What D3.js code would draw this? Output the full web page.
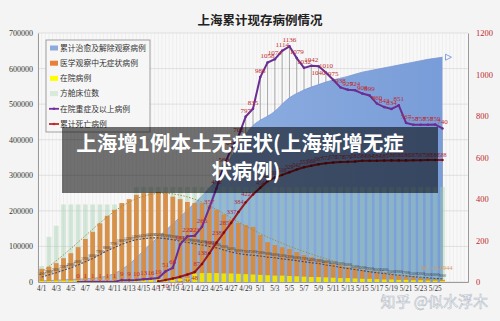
<!DOCTYPE html>
<html>
<head>
<meta charset="utf-8">
<script src="https://cdn.jsdelivr.net/npm/d3@7"></script>
<style>
  html, body { margin: 0; padding: 0; background: #f4f4f4; }
  svg { display: block; }
</style>
</head>
<body>
<div id="chart"></div>
<script>
// categories (4/1 .. 5/29, data runs to 5/26)
var dates = ["4/1","4/2","4/3","4/4","4/5","4/6","4/7","4/8","4/9","4/10","4/11","4/12","4/13","4/14","4/15",
  "4/16","4/17","4/18","4/19","4/20","4/21","4/22","4/23","4/24","4/25","4/26","4/27","4/28","4/29","4/30",
  "5/1","5/2","5/3","5/4","5/5","5/6","5/7","5/8","5/9","5/10","5/11","5/12","5/13","5/14","5/15","5/16",
  "5/17","5/18","5/19","5/20","5/21","5/22","5/23","5/24","5/25","5/26","5/27","5/28","5/29"];

var tickDates = ["4/1","4/3","4/5","4/7","4/9","4/11","4/13","4/15","4/17","4/19","4/21","4/23","4/25","4/27","4/29",
  "5/1","5/3","5/5","5/7","5/9","5/11","5/13","5/15","5/17","5/19","5/21","5/23","5/25"];
var leftTicks = [0, 100000, 200000, 300000, 400000, 500000, 600000, 700000];
var rightTicks = [0, 200, 400, 600, 800, 1000, 1200];

// 累计治愈及解除观察病例 (4/1..5/26)
var cured = [3000,4000,5000,6000,7000,8000,9000,10000,13000,17000,24000,35000,50000,68000,88000,
  108000,126000,145000,163000,183000,202000,222000,242000,264000,287000,320000,350000,385000,415000,440000,
  455000,466000,480000,500000,518000,530000,540000,548000,555000,562000,568000,573000,578000,584000,590000,
  594000,598000,602000,606000,610000,614000,618000,622000,626000,629000,632000];

// 医学观察中无症状病例
var asym = [37000,43000,53000,67000,81000,98000,121000,141000,165000,186000,203000,222000,233000,245000,250000,
  251000,253000,250000,240000,233000,225000,222000,222000,216000,203000,190000,176000,166000,160000,155000,
  132000,112000,104000,98000,93000,84000,76000,70000,65000,59000,53000,48000,42000,39000,34000,
  31000,28000,24000,21000,18000,15000,13000,11000,9000,7000,6000];

// 在院病例
var inHosp = [3000,3000,4000,4000,4000,5000,5000,5000,5000,6000,6000,6000,7000,7000,7000,
  8000,8000,8000,9000,9000,10000,24000,25000,25000,25000,24000,24000,23000,22000,21000,
  20000,19000,18000,18000,17000,16000,15000,14000,14000,13000,12000,11000,11000,10000,9000,
  9000,8000,7000,7000,6000,6000,5000,5000,4000,4000,3000];

// 方舱床位数
var beds = [45000,127000,158000,218000,218000,218000,218000,218000,218000,218000,218000,218000,218000,267000,267000,
  267000,267000,267000,267000,267000,267000,267000,267000,267000,267000,267000,267000,267000,267000,267000,
  267000,267000,267000,267000,267000,267000,267000,267000,267000,267000,267000,267000,267000,267000,267000,
  267000,267000,267000,267000,267000,267000,267000,267000,267000,267000,267000];

// 在院重症及以上病例 (right axis)
var severe = [null,null,null,null,null,0,1,1,1,1,1,9,9,10,13,
  16,19,51,68,181,220,223,266,357,452,560,640,702,797,835,
  988,1058,1074,1114,1136,1079,1032,1042,1040,1010,975,938,927,924,908,
  899,860,843,834,851,767,758,758,758,759,740];

// 累计死亡病例 (right axis)
var deaths = [null,null,null,null,null,null,null,null,null,null,null,null,null,null,null,
  null,3,10,17,25,36,48,87,138,190,238,285,337,384,422,
  454,486,503,516,529,542,553,560,567,572,576,578,579,581,584,
  584,584,585,586,586,586,587,587,588,588,588];

// dark dotted series
var darkLine = [14000,20000,26000,33000,40000,48000,57000,66000,77000,88000,97000,106000,113000,119000,122000,
  124000,124000,122000,119000,115000,111000,108000,104000,100000,96000,90000,84000,80000,77000,75000,
  73000,70000,68000,65000,63000,60000,57000,54000,52000,48000,45000,41000,38000,35000,32000,
  29000,26000,24000,21000,19000,17000,15000,13000,12000,10000,9000];

// trend line on 无症状 bars
var trendDates = ["4/1","4/4","4/7","4/10","4/13","4/16","4/19","4/22","4/25","4/28","5/1","5/4","5/7","5/10","5/13","5/16","5/19","5/22","5/26"];
var trendVals = [28000,75000,130000,185000,228000,250000,250000,235000,205000,168000,135000,108000,85000,65000,48000,34000,23000,14000,6000];

var W = 500, H = 321;
var pL = 38, pR = 468, pT = 33, pB = 282;
var serif = "'Liberation Serif', 'DejaVu Serif', serif";
var cjk = "'Noto Sans CJK SC', sans-serif";

var svg = d3.select("#chart").append("svg")
    .attr("width", W)
    .attr("height", H);

svg.append("rect").attr("width", W).attr("height", H).attr("fill", "#f4f4f4");

var defs = svg.append("defs");
var grad = defs.append("linearGradient").attr("id", "blueGrad")
    .attr("gradientUnits", "userSpaceOnUse")
    .attr("x1", pL).attr("x2", 450).attr("y1", 0).attr("y2", 0);
grad.append("stop").attr("offset", "0").attr("stop-color", "#c4d5f0");
grad.append("stop").attr("offset", "0.4").attr("stop-color", "#8fafe1");
grad.append("stop").attr("offset", "1").attr("stop-color", "#789cd8");

var x = d3.scaleBand().domain(dates).range([pL, pR]).padding(0);
var step = x.step();
function cx(d) { return x(d) + step / 2; }

var yL = d3.scaleLinear().domain([0, 700000]).range([pB, pT]);
var yR = d3.scaleLinear().domain([0, 1200]).range([pB, pT]);

var days = dates.slice(0, cured.length);

// plot background + grid
svg.append("rect").attr("x", pL).attr("y", pT).attr("width", pR - pL).attr("height", pB - pT)
    .attr("fill", "#f8f8f8");

var grid = svg.append("g");
d3.range(pL, pR, step / 2).forEach(function(gx) {
    grid.append("line").attr("x1", gx).attr("x2", gx).attr("y1", pT).attr("y2", pB)
        .attr("stroke", "#e4e4e4").attr("stroke-width", 0.5);
});
leftTicks.forEach(function(t) {
    grid.append("line").attr("x1", pL).attr("x2", pR).attr("y1", yL(t)).attr("y2", yL(t))
        .attr("stroke", "#d6d6d6").attr("stroke-width", 0.7);
});

// drop lines from purple points
svg.append("g").selectAll("line")
    .data(days.filter(function(d, i) { return severe[i] != null; }))
    .enter().append("line")
    .attr("x1", cx).attr("x2", cx)
    .attr("y1", function(d) { return yR(severe[dates.indexOf(d)]); })
    .attr("y2", pB)
    .attr("stroke", "#8a8a8a").attr("stroke-width", 0.7);

// blue area
var area = d3.area()
    .x(function(d) { return cx(d); })
    .y0(pB)
    .y1(function(d, i) { return yL(cured[i]); })
    .curve(d3.curveMonotoneX);
svg.append("path").datum(days).attr("d", area).attr("fill", "url(#blueGrad)");
svg.append("path").datum(days)
    .attr("d", d3.line().x(function(d) { return cx(d); }).y(function(d, i) { return yL(cured[i]); }).curve(d3.curveMonotoneX))
    .attr("fill", "none").attr("stroke", "#7896d2").attr("stroke-width", 0.8);
var endX = cx("5/26") + 3, endY = yL(cured[cured.length - 1]);
svg.append("path")
    .attr("d", "M" + endX + "," + (endY - 3) + "L" + (endX + 6) + "," + endY + "L" + endX + "," + (endY + 3) + "Z")
    .attr("fill", "none").attr("stroke", "#6f8fce").attr("stroke-width", 0.8);

// 方舱床位数 bars
var bw = step * 0.66;
svg.append("g").selectAll("rect").data(days).enter().append("rect")
    .attr("x", function(d) { return cx(d) - bw / 2; })
    .attr("width", bw)
    .attr("y", function(d, i) { return yL(beds[i]); })
    .attr("height", function(d, i) { return pB - yL(beds[i]); })
    .attr("fill", "#9fcfae").attr("opacity", 0.42);

// 医学观察中无症状病例 bars
svg.append("g").selectAll("rect").data(days).enter().append("rect")
    .attr("x", function(d) { return cx(d) - bw / 2; })
    .attr("width", bw)
    .attr("y", function(d, i) { return yL(asym[i]); })
    .attr("height", function(d, i) { return pB - yL(asym[i]); })
    .attr("fill", "#d8873a").attr("opacity", 0.9);

// 在院病例 bars
svg.append("g").selectAll("rect").data(days).enter().append("rect")
    .attr("x", function(d) { return cx(d) - bw / 2; })
    .attr("width", bw)
    .attr("y", function(d, i) { return yL(inHosp[i]); })
    .attr("height", function(d, i) { return pB - yL(inHosp[i]); })
    .attr("fill", "#f2f000").attr("opacity", 0.85);

// dark dotted line + tiny labels
var darkG = svg.append("g");
darkG.append("path").datum(days)
    .attr("d", d3.line().x(function(d) { return cx(d); }).y(function(d, i) { return yL(darkLine[i]); }))
    .attr("fill", "none").attr("stroke", "#414c6a").attr("stroke-width", 1.1).attr("stroke-dasharray", "2,1.5");
darkG.selectAll("text").data(days).enter().append("text")
    .attr("x", cx)
    .attr("y", function(d, i) { return yL(darkLine[i]) - 2; })
    .attr("text-anchor", "middle")
    .style("font-family", serif).style("font-size", "3.4px").attr("fill", "#333")
    .text(function(d, i) { return darkLine[i]; });

// trend line on 无症状
svg.append("path").datum(trendDates)
    .attr("d", d3.line().x(function(d) { return cx(d); }).y(function(d, i) { return yL(trendVals[i]); }).curve(d3.curveBasis))
    .attr("fill", "none").attr("stroke", "#a08a3a").attr("stroke-width", 0.9).attr("stroke-dasharray", "1.5,1.5");
svg.append("text").attr("x", 437).attr("y", 270).attr("text-anchor", "middle")
    .style("font-family", serif).style("font-size", "6.5px").attr("fill", "#d49a60")
    .text("R² = 0.9944");

// 在院重症及以上病例 line
var sevDays = days.filter(function(d, i) { return severe[i] != null; });
function sev(d) { return severe[dates.indexOf(d)]; }
svg.append("path").datum(sevDays)
    .attr("d", d3.line().x(cx).y(function(d) { return yR(sev(d)); }))
    .attr("fill", "none").attr("stroke", "#6b2d93").attr("stroke-width", 2);
svg.append("g").selectAll("circle").data(sevDays).enter().append("circle")
    .attr("cx", cx).attr("cy", function(d) { return yR(sev(d)); }).attr("r", 1.3).attr("fill", "#6b2d93");
svg.append("g").selectAll("text").data(sevDays).enter().append("text")
    .attr("x", cx)
    .attr("y", function(d) { return d === "5/9" ? yR(sev(d)) + 9 : yR(sev(d)) - 4; })
    .attr("text-anchor", "middle")
    .style("font-family", serif).style("font-size", "7px").attr("fill", "#c0282d")
    .text(function(d) { return sev(d); });

// 累计死亡病例 line
var deadDays = days.filter(function(d, i) { return deaths[i] != null; });
function dead(d) { return deaths[dates.indexOf(d)]; }
svg.append("path").datum(deadDays)
    .attr("d", d3.line().x(cx).y(function(d) { return yR(dead(d)); }))
    .attr("fill", "none").attr("stroke", "#9a1b22").attr("stroke-width", 2);
svg.append("g").selectAll("circle").data(deadDays).enter().append("circle")
    .attr("cx", cx).attr("cy", function(d) { return yR(dead(d)); }).attr("r", 1.3).attr("fill", "#7d1015");
svg.append("g").selectAll("text").data(deadDays).enter().append("text")
    .attr("x", function(d, i) { return i >= 6 && i < 14 ? cx(d) - 2 : cx(d); })
    .attr("y", function(d, i) {
        if (i < 6) return yR(dead(d)) + 8;
        if (i < 14) return yR(dead(d)) + 2;
        return yR(dead(d)) - 3;
    })
    .attr("text-anchor", function(d, i) { return i >= 6 && i < 14 ? "end" : "middle"; })
    .style("font-family", serif).style("font-size", function(d, i) { return i < 14 ? "6.5px" : "5.5px"; })
    .attr("fill", "#b0283a")
    .text(function(d) { return dead(d); });

// axes
var axL = svg.append("g").attr("transform", "translate(" + pL + ",0)")
    .call(d3.axisLeft(yL).tickValues(leftTicks).tickSize(0).tickPadding(5).tickFormat(d3.format("d")));
axL.select(".domain").attr("stroke", "#9a9a9a");
axL.selectAll("text").style("font-family", serif).style("font-size", "8px").attr("fill", "#333");

var axR = svg.append("g").attr("transform", "translate(" + pR + ",0)")
    .call(d3.axisRight(yR).tickValues(rightTicks).tickSize(0).tickPadding(8).tickFormat(d3.format("d")));
axR.select(".domain").attr("stroke", "#9a9a9a");
axR.selectAll("text").style("font-family", serif).style("font-size", "8.5px").attr("fill", "#c0282d");

var axB = svg.append("g").attr("transform", "translate(0," + pB + ")")
    .call(d3.axisBottom(x).tickValues(tickDates).tickSize(0).tickPadding(4));
axB.select(".domain").attr("stroke", "#9a9a9a");
axB.selectAll("text").style("font-family", serif).style("font-size", "7.2px").attr("fill", "#333");

// title
svg.append("text").attr("x", 260).attr("y", 25).attr("text-anchor", "middle")
    .style("font-family", cjk).style("font-size", "12.5px").style("font-weight", "bold").attr("fill", "#222")
    .text("上海累计现存病例情况");

// legend
var legendNames = ["累计治愈及解除观察病例", "医学观察中无症状病例", "在院病例", "方舱床位数", "在院重症及以上病例", "累计死亡病例"];
var legendColors = ["#8eaadb", "#e8803a", "#ffff00", "#d7eadb", "#7030a0", "#c0282d"];
var lg = svg.append("g");
lg.append("rect").attr("x", 46).attr("y", 40).attr("width", 104).attr("height", 92)
    .attr("fill", "#f6f6f6").attr("stroke", "#8c8c8c").attr("stroke-width", 0.8);
legendNames.forEach(function(name, i) {
    var ly = 48 + i * 15.2;
    if (i < 4) {
        lg.append("rect").attr("x", 50).attr("y", ly - 2.5).attr("width", 8).attr("height", 5).attr("fill", legendColors[i]);
    } else {
        lg.append("line").attr("x1", 49).attr("x2", 59).attr("y1", ly).attr("y2", ly)
            .attr("stroke", legendColors[i]).attr("stroke-width", 1.8);
        lg.append("circle").attr("cx", 54).attr("cy", ly).attr("r", 1.3).attr("fill", legendColors[i]);
    }
    lg.append("text").attr("x", 60).attr("y", ly + 2.8)
        .style("font-family", cjk).style("font-size", "7.8px").attr("fill", "#333")
        .text(name);
});

// overlay banner
svg.append("rect").attr("x", 62).attr("y", 127).attr("width", 376).attr("height", 66)
    .attr("fill", "#000").attr("opacity", 0.55);
var bannerLines = ["上海增1例本土无症状(上海新增无症", "状病例)"];
svg.append("text").attr("x", 240).attr("y", 151).attr("text-anchor", "middle")
    .style("font-family", cjk).style("font-size", "20.5px").style("font-weight", "bold").attr("fill", "#fff")
    .text(bannerLines[0]);
svg.append("text").attr("x", 246).attr("y", 179).attr("text-anchor", "middle")
    .style("font-family", cjk).style("font-size", "20.5px").style("font-weight", "bold").attr("fill", "#fff")
    .text(bannerLines[1]);

// watermark
svg.append("text").attr("x", 488).attr("y", 307).attr("text-anchor", "end")
    .style("font-family", cjk).style("font-size", "15px").attr("fill", "#ffffff")
    .attr("stroke", "#b8c0ca").attr("stroke-width", 0.6)
    .text("知乎 @似水浮木");
</script>
</body>
</html>
